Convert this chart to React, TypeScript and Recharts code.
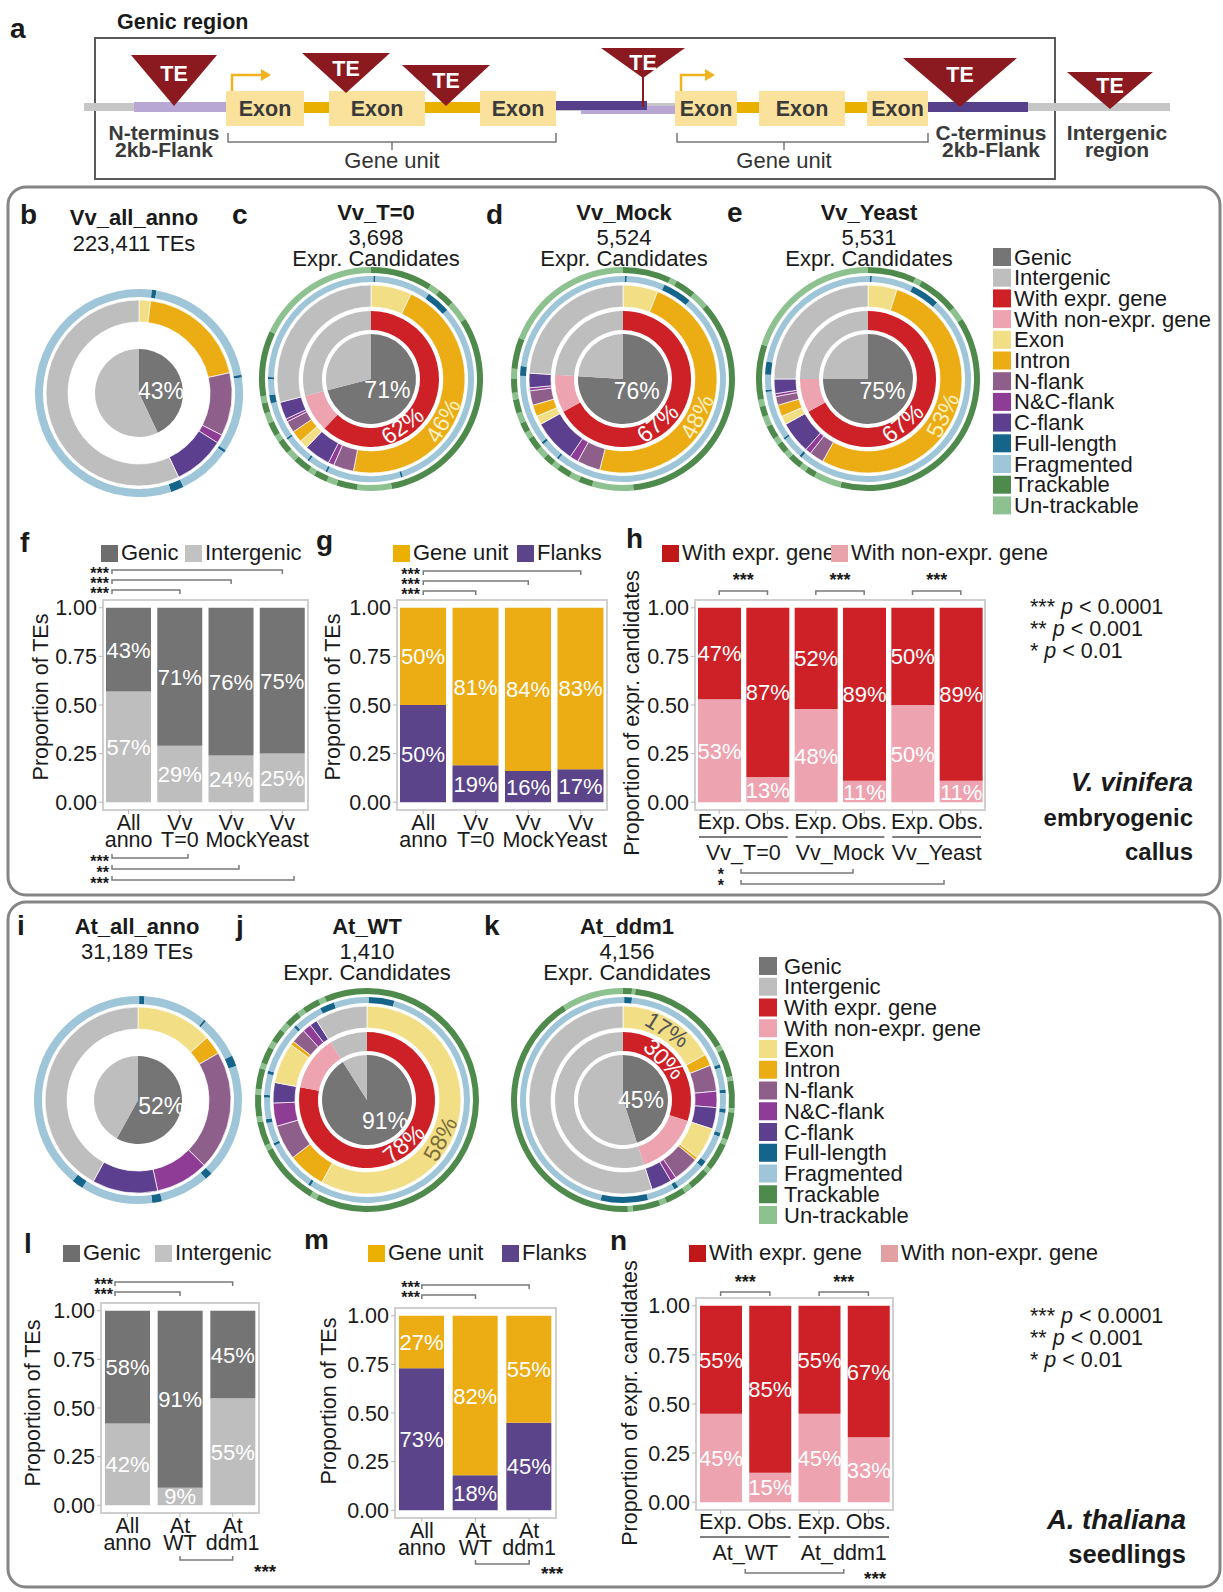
import React from "react";
import { PieChart, Pie, Cell, BarChart, Bar, XAxis, YAxis, LabelList, ReferenceArea } from "recharts";

const FONT = "'Liberation Sans', Arial, Helvetica, sans-serif";
const INK = "#1a1a1a";

const COLORS: Record<string, string> = {
  "Genic": "#757575",
  "Intergenic": "#bebebe",
  "With expr. gene": "#cd2127",
  "With non-expr. gene": "#eda4b0",
  "Exon": "#f2de85",
  "Intron": "#ebac14",
  "N-flank": "#8d5f8a",
  "N&C-flank": "#8f3c96",
  "C-flank": "#5c3f8e",
  "Full-length": "#15648a",
  "Fragmented": "#9ec6d8",
  "Trackable": "#4f8a4d",
  "Un-trackable": "#8dc18f",
};
const legendCats = ["Genic", "Intergenic", "With expr. gene", "With non-expr. gene", "Exon", "Intron", "N-flank", "N&C-flank", "C-flank", "Full-length", "Fragmented", "Trackable", "Un-trackable"];

// ---------- donut categories ----------
const innerCats = ["Genic", "Intergenic"];
const exprCats = ["With expr. gene", "With non-expr. gene", "Intergenic"];
const featureCats = ["Exon", "Intron", "N-flank", "N&C-flank", "C-flank", "Exon", "Intron", "N-flank", "N&C-flank", "C-flank", "Intergenic"];
const annoFeatureCats = ["Exon", "Intron", "N-flank", "N&C-flank", "C-flank", "Intergenic"];
const integrityCats = ["Fragmented", "Full-length"];
const trackCats = ["Trackable", "Un-trackable"];

// ---------- donut values (percent, clockwise from 12 o'clock) ----------
const vvAnnoGenic = [43, 57];
const vvAnnoFeature = [2, 19.5, 11, 1.5, 9, 57];
const vvAnnoIntegrity = [2, 0.7, 19.5, 0.4, 11.7, 0.4, 8.3, 2, 55];

const vvT0Genic = [71, 29];
const vvT0Expr = [62, 9, 29];
const vvT0Feature = [7, 46, 3.5, 1, 4.5, 1.5, 2, 2, 0.5, 3, 29];
const vvT0Integrity = [0.4, 0.3, 8.8, 3.8, 31.7, 0.3, 11.7, 0.3, 3, 0.3, 4.4, 0.3, 5.9, 1.3, 2.5, 0.3, 24.7];
const vvT0Track = [9, 1.5, 2.5, 3, 31, 5, 3, 1.5, 2, 1, 2.5, 1.5, 2, 1, 2, 1.5, 1.5, 1, 9.5, 18];

const vvMockGenic = [76, 24];
const vvMockExpr = [67, 9, 24];
const vvMockFeature = [6, 48, 4, 1.5, 7.5, 1.5, 2, 2.5, 0.5, 2.5, 24];
const vvMockIntegrity = [0.3, 0.3, 6, 4.6, 49.6, 0.3, 3, 0.4, 11, 1.5, 23];
const vvMockTrack = [7, 1, 3, 2.5, 35, 6, 2, 1.5, 2, 1, 1.5, 1.5, 2, 1, 1.5, 1.5, 2, 1, 2, 1.5, 4.5, 19];

const vvYeastGenic = [75, 25];
const vvYeastExpr = [67, 8, 25];
const vvYeastFeature = [5, 53, 2.5, 1, 5.5, 1.5, 2, 1.5, 0.5, 2.5, 25];
const vvYeastIntegrity = [0.3, 0.3, 6.6, 4.5, 49.5, 0.4, 3.4, 0.3, 7.7, 0.3, 2.4, 2, 22.3];
const vvYeastTrack = [7, 1, 6, 2, 38, 4, 1.5, 1, 2, 1, 1.5, 1, 2, 1.5, 1.5, 1, 8, 20];

const atAnnoGenic = [58, 42];
const atAnnoGenicLabel = "52%";
const atAnnoFeature = [13.3, 3.3, 20.8, 9.2, 11.4, 42];
const atAnnoIntegrity = [0.2, 0.8, 10, 0.3, 6.7, 1.7, 17.8, 1.2, 7.6, 1.5, 11.2, 1.8, 39.2];

const atWtGenic = [91, 9];
const atWtExpr = [78, 13, 9];
const atWtFeature = [58, 6.5, 6, 4, 3.5, 7, 0.7, 2.5, 1.5, 1.3, 9];
const atWtIntegrity = [0.3, 4, 55, 0.4, 8, 0.4, 3.3, 0.6, 3.4, 0.4, 3.3, 0.5, 7.9, 0.4, 4.6, 2.3, 5.2];
const atWtTrack = [57.5, 1, 9, 0.8, 3.5, 0.8, 3.2, 0.8, 3, 0.8, 2.5, 1, 2, 1.2, 2.2, 1, 2.5, 1, 6.2];

const atDdm1Genic = [45, 55];
const atDdm1Expr = [30, 15, 55];
const atDdm1Feature = [17, 2, 4.5, 2.8, 3.7, 5.5, 0.5, 4.5, 1, 3.5, 55];
const atDdm1Integrity = [0.2, 1.2, 18, 0.5, 3.5, 0.5, 2.5, 0.6, 3.2, 0.6, 4.4, 1, 4.8, 0.7, 4.4, 7.4, 46.5];
const atDdm1Track = [1.3, 0.5, 15, 0.8, 4, 0.6, 4, 0.6, 4, 0.8, 4, 0.8, 3, 1.2, 3, 1, 4, 0.7, 41.7, 9];

// ---------- bar values (proportions) ----------
const vvBarGroups = ["All\nanno", "Vv\nT=0", "Vv\nMock", "Vv\nYeast"];
const vvBarGenic = [0.43, 0.71, 0.76, 0.75];
const vvBarIntergenic = [0.57, 0.29, 0.24, 0.25];
const vvBarGeneUnit = [0.5, 0.81, 0.84, 0.83];
const vvBarFlanks = [0.5, 0.19, 0.16, 0.17];
const vvExprBars = ["Exp.", "Obs.", "Exp.", "Obs.", "Exp.", "Obs."];
const vvExprSamples = ["Vv_T=0", "Vv_Mock", "Vv_Yeast"];
const vvWithExpr = [0.47, 0.87, 0.52, 0.89, 0.5, 0.89];
const vvWithNonExpr = [0.53, 0.13, 0.48, 0.11, 0.5, 0.11];

const atBarGroups = ["All\nanno", "At\nWT", "At\nddm1"];
const atBarGenic = [0.58, 0.91, 0.45];
const atBarIntergenic = [0.42, 0.09, 0.55];
const atBarGeneUnit = [0.27, 0.82, 0.55];
const atBarFlanks = [0.73, 0.18, 0.45];
const atExprBars = ["Exp.", "Obs.", "Exp.", "Obs."];
const atExprSamples = ["At_WT", "At_ddm1"];
const atWithExpr = [0.55, 0.85, 0.55, 0.67];
const atWithNonExpr = [0.45, 0.15, 0.45, 0.33];

const yTicks = [0, 0.25, 0.5, 0.75, 1];

// ---------- layout ----------
type Box = { x0: number; x1: number; y0: number; y1: number };
const boxF: Box = { x0: 103, x1: 308, y0: 600, y1: 810 };
const boxG: Box = { x0: 397, x1: 607, y0: 600, y1: 810 };
const boxH: Box = { x0: 695, x1: 985, y0: 600, y1: 810 };
const boxL: Box = { x0: 101, x1: 259, y0: 1303, y1: 1513 };
const boxM: Box = { x0: 395, x1: 556, y0: 1308, y1: 1518 };
const boxN: Box = { x0: 696, x1: 893, y0: 1298, y1: 1510 };
const centers = (b: Box, n: number) => Array.from({ length: n }, (_, i) => b.x0 + ((b.x1 - b.x0) / n) * (i + 0.5));

// ---------- donut ----------
type RingSpec = { values: number[]; cats: string[]; r0: number; r1: number; stroke?: boolean };
type LabelSpec = { ring: number; index: number; angle?: number; r: number; rot?: number; color: string; text?: string; size?: number };

function Donut({ cx, cy, rings, labels }: { cx: number; cy: number; rings: RingSpec[]; labels: LabelSpec[] }) {
  const size = 240;
  const c = size / 2;
  return (
    <div style={{ position: "absolute", left: cx - c, top: cy - c, width: size, height: size }}>
      <PieChart width={size} height={size} margin={{ top: 0, right: 0, bottom: 0, left: 0 }}>
        {rings.map((ring, ri) => {
          const data = ring.values.map((v, i) => ({ name: ring.cats[i % ring.cats.length], value: v }));
          const specs = labels.filter((l) => l.ring === ri);
          const labelFn = specs.length
            ? (p: any) => {
                const s = specs.find((l) => l.index === p.index);
                if (!s) return null;
                const pcx = Number(p.cx);
                const pcy = Number(p.cy);
                let x: number;
                let y: number;
                if (s.angle === undefined) {
                  const a = (-Number(p.midAngle) * Math.PI) / 180;
                  x = pcx + s.r * Math.cos(a);
                  y = pcy + s.r * Math.sin(a);
                } else {
                  const a = (s.angle * Math.PI) / 180;
                  x = pcx + s.r * Math.sin(a);
                  y = pcy - s.r * Math.cos(a);
                }
                const val = Number(p.value ?? (p.payload && p.payload.value));
                return (
                  <text
                    x={x}
                    y={y}
                    textAnchor="middle"
                    dominantBaseline="central"
                    fill={s.color}
                    fontSize={s.size ?? 23}
                    fontFamily={FONT}
                    transform={s.rot ? `rotate(${s.rot} ${x} ${y})` : undefined}
                  >
                    {s.text ?? `${Math.round(val)}%`}
                  </text>
                );
              }
            : false;
          return (
            <Pie
              key={ri}
              data={data}
              dataKey="value"
              nameKey="name"
              cx={c}
              cy={c}
              innerRadius={ring.r0}
              outerRadius={ring.r1}
              startAngle={90}
              endAngle={-270}
              stroke={ring.stroke ? "#ffffff" : "none"}
              strokeWidth={ring.stroke ? 0.7 : 0}
              isAnimationActive={false}
              label={labelFn as any}
              labelLine={false}
            >
              {data.map((d, i) => (
                <Cell key={i} fill={COLORS[d.name]} />
              ))}
            </Pie>
          );
        })}
      </PieChart>
    </div>
  );
}

const R_IN: [number, number] = [0, 45];
const R_EXPR: [number, number] = [49, 68];
const R_FEAT: [number, number] = [72, 94];
const R_INT: [number, number] = [97, 103];
const R_TRK: [number, number] = [106, 112];

function fullRings(inner: number[], expr: number[], feat: number[], integ: number[], track: number[]): RingSpec[] {
  return [
    { values: inner, cats: innerCats, r0: R_IN[0], r1: R_IN[1] },
    { values: expr, cats: exprCats, r0: R_EXPR[0], r1: R_EXPR[1] },
    { values: feat, cats: featureCats, r0: R_FEAT[0], r1: R_FEAT[1], stroke: true },
    { values: integ, cats: integrityCats, r0: R_INT[0], r1: R_INT[1] },
    { values: track, cats: trackCats, r0: R_TRK[0], r1: R_TRK[1] },
  ];
}
function annoRings(inner: number[], feat: number[], integ: number[]): RingSpec[] {
  return [
    { values: inner, cats: innerCats, r0: 0, r1: 44 },
    { values: feat, cats: annoFeatureCats, r0: 71, r1: 93, stroke: true },
    { values: integ, cats: integrityCats, r0: 96, r1: 104 },
  ];
}

// ---------- stacked bars ----------
const pctLabel = (color: string) => (p: any) => {
  const vb = p.viewBox || p;
  const x = Number(vb.x ?? p.x);
  const y = Number(vb.y ?? p.y);
  const w = Number(vb.width ?? p.width);
  const h = Number(vb.height ?? p.height);
  const v = Number(p.value);
  return (
    <text x={x + w / 2} y={y + h / 2} dy={8} textAnchor="middle" fill={color} fontSize={22} fontFamily={FONT}>
      {`${Math.round(v * 100)}%`}
    </text>
  );
};

const twoLineTick = (labels: string[]) => (p: any) => {
  const i = Number(p.payload.value);
  const [a, b] = labels[i].split("\n");
  return (
    <text x={p.x} y={p.y} textAnchor="middle" fontSize={21.5} fill={INK} fontFamily={FONT}>
      <tspan x={p.x} dy={14}>{a}</tspan>
      <tspan x={p.x} dy={17}>{b}</tspan>
    </text>
  );
};

const groupTick = (labels: string[], samples: string[], band: number) => (p: any) => {
  const i = Number(p.payload.value);
  return (
    <g>
      <text x={p.x} y={p.y + 13} textAnchor="middle" fontSize={21.5} fill={INK} fontFamily={FONT}>
        {labels[i]}
      </text>
      {i % 2 === 0 ? (
        <g>
          <line x1={p.x - band / 2 + 4} x2={p.x + band * 1.5 - 4} y1={p.y + 21} y2={p.y + 21} stroke="#555" strokeWidth={1.5} />
          <text x={p.x + band / 2} y={p.y + 44} textAnchor="middle" fontSize={21.5} fill={INK} fontFamily={FONT}>
            {samples[i / 2]}
          </text>
        </g>
      ) : null}
    </g>
  );
};

function StackPanel({ box, lo, hi, loColor, hiColor, barSize, tick }: { box: Box; lo: number[]; hi: number[]; loColor: string; hiColor: string; barSize: number; tick: (p: any) => any }) {
  const padL = 70, padR = 6, padT = 6, padB = 70;
  const plotW = box.x1 - box.x0;
  const plotH = box.y1 - box.y0;
  const data = lo.map((v, i) => ({ idx: i, lo: v, hi: hi[i] }));
  return (
    <div style={{ position: "absolute", left: box.x0 - padL, top: box.y0 - padT }}>
      <BarChart width={padL + plotW + padR} height={padT + plotH + padB} data={data} margin={{ top: padT, right: padR, bottom: 0, left: 0 }} barCategoryGap={0}>
        <XAxis dataKey="idx" type="category" height={padB} tick={tick} tickSize={4} tickMargin={2} tickLine={{ stroke: "#b5b5b5" }} axisLine={false} interval={0} />
        <YAxis
          type="number"
          domain={[-0.04, 1.04]}
          ticks={yTicks}
          width={padL}
          allowDataOverflow
          tickFormatter={(v: number) => v.toFixed(2)}
          tick={{ fontSize: 21.5, fill: INK, fontFamily: FONT }}
          tickSize={4}
          tickMargin={2}
          tickLine={{ stroke: "#b5b5b5" }}
          axisLine={false}
        />
        <ReferenceArea y1={-0.04} y2={1.04} fill="none" stroke="#cfcfcf" strokeWidth={2} ifOverflow="visible" />
        <Bar dataKey="lo" stackId="s" fill={loColor} barSize={barSize} isAnimationActive={false}>
          <LabelList dataKey="lo" position="center" content={pctLabel("#ffffff") as any} />
        </Bar>
        <Bar dataKey="hi" stackId="s" fill={hiColor} barSize={barSize} isAnimationActive={false}>
          <LabelList dataKey="hi" position="center" content={pctLabel("#ffffff") as any} />
        </Bar>
      </BarChart>
    </div>
  );
}

// ---------- overlay helpers ----------
const T = (p: { x: number; y: number; s?: number; b?: boolean; a?: "start" | "middle" | "end"; c?: string; i?: boolean; children: any }) => (
  <text x={p.x} y={p.y} fontSize={p.s ?? 22} fontWeight={p.b ? "bold" : "normal"} fontStyle={p.i ? "italic" : "normal"} textAnchor={p.a ?? "start"} fill={p.c ?? INK} fontFamily={FONT}>
    {p.children}
  </text>
);
const YLabel = ({ x, y, text }: { x: number; y: number; text: string }) => (
  <text x={x + 7} y={y} transform={`rotate(-90 ${x + 7} ${y})`} textAnchor="middle" fontSize={21.5} fill={INK} fontFamily={FONT}>
    {text}
  </text>
);
const Bracket = ({ x1, x2, y, dir }: { x1: number; x2: number; y: number; dir: number }) => (
  <path d={`M${x1},${y + dir * 4} L${x1},${y} L${x2},${y} L${x2},${y + dir * 4}`} fill="none" stroke="#7a7a7a" strokeWidth={1.5} />
);
const Stars = ({ x, y, t, a, s }: { x: number; y: number; t: string; a?: "start" | "middle" | "end"; s?: number }) => (
  <text x={x} y={y + 9} textAnchor={a ?? "end"} fontSize={s ?? 16} fontWeight="bold" fill={INK} fontFamily={FONT}>
    {t}
  </text>
);
const Swatch = ({ x, y, c, label, s }: { x: number; y: number; c: string; label: string; s?: number }) => (
  <g>
    <rect x={x} y={y - 8} width={17} height={17} fill={c} />
    <T x={x + 20} y={y + 7} s={s ?? 22}>{label}</T>
  </g>
);
const DonutLegend = ({ x, y, step, s, gap }: { x: number; y: number; step: number; s: number; gap: number }) => (
  <g>
    {legendCats.map((c, i) => (
      <g key={c}>
        <rect x={x} y={y + i * step - 9} width={18} height={18} fill={COLORS[c]} />
        <T x={x + gap} y={y + i * step + 7.5} s={s}>{c}</T>
      </g>
    ))}
  </g>
);
const PLegend = ({ x, y }: { x: number; y: number }) => (
  <g>
    {["***", "**", "*"].map((s, i) => {
      const lvl = ["0.0001", "0.001", "0.01"][i];
      return (
        <text key={s} x={x} y={y + i * 22} fontSize={21.5} fill={INK} fontFamily={FONT}>
          <tspan>{s} </tspan>
          <tspan fontStyle="italic">p</tspan>
          <tspan>{` < ${lvl}`}</tspan>
        </text>
      );
    })}
  </g>
);

const TE_RED = "#8a1a1f";
function PanelA() {
  const te = (cx: number, top: number, half: number, apex: number, ty: number) => (
    <g key={cx}>
      <polygon points={`${cx - half},${top} ${cx + half},${top} ${cx},${apex}`} fill={TE_RED} />
      <text x={cx} y={ty} textAnchor="middle" fill="#fff" fontSize={21.5} fontWeight="bold" fontFamily={FONT}>TE</text>
    </g>
  );
  const exons = [[226, 304], [329, 425], [480, 556], [675, 737], [759, 845], [867, 928]];
  const gold = "#e9b000";
  const lbl = "#3a3a3a";
  return (
    <g fontFamily={FONT}>
      <T x={10} y={38} s={28} b>a</T>
      <T x={117} y={29} s={21.5} b>Genic region</T>
      <rect x={95} y={38} width={960} height={141} fill="none" stroke="#5a5a5a" strokeWidth={2} />
      <rect x={84} y={103} width={1086} height={8} fill="#c6c6c6" />
      <rect x={134} y={102} width={92} height={10} fill="#b8a6d4" />
      <rect x={581} y={106} width={94} height={8} fill="#b8a6d4" />
      <rect x={556} y={101} width={91} height={9} fill="#57408b" />
      <rect x={928} y={102} width={100} height={10} fill="#57408b" />
      <rect x={304} y={102} width={25} height={11} fill={gold} />
      <rect x={425} y={102} width={55} height={11} fill={gold} />
      <rect x={737} y={102} width={22} height={11} fill={gold} />
      <rect x={845} y={102} width={22} height={11} fill={gold} />
      {exons.map(([a, b]) => (
        <g key={a}>
          <rect x={a} y={91} width={b - a} height={35} fill="#fbe29c" />
          <text x={(a + b) / 2} y={116} textAnchor="middle" fontSize={21.5} fontWeight="bold" fill={lbl}>Exon</text>
        </g>
      ))}
      <line x1={643} y1={76} x2={643} y2={107} stroke={TE_RED} strokeWidth={2} />
      {te(174, 55, 43, 106, 81)}
      {te(346, 53, 44, 93, 76)}
      {te(446, 65, 44, 106, 88)}
      {te(643, 48, 42, 78, 70)}
      {te(960, 58, 57, 107, 82)}
      {te(1110, 72, 43, 109, 93)}
      <path d="M232,91 V75 H262" fill="none" stroke="#f0b21d" strokeWidth={2.5} />
      <polygon points="261,69 271,75 261,81" fill="#f0b21d" />
      <path d="M681,91 V75 H706" fill="none" stroke="#f0b21d" strokeWidth={2.5} />
      <polygon points="705,69 715,75 705,81" fill="#f0b21d" />
      <T x={164} y={140} s={21} b a="middle" c={lbl}>N-terminus</T>
      <T x={164} y={157} s={21} b a="middle" c={lbl}>2kb-Flank</T>
      <T x={991} y={140} s={21} b a="middle" c={lbl}>C-terminus</T>
      <T x={991} y={157} s={21} b a="middle" c={lbl}>2kb-Flank</T>
      <T x={1117} y={140} s={21} b a="middle" c={lbl}>Intergenic</T>
      <T x={1117} y={157} s={21} b a="middle" c={lbl}>region</T>
      <path d="M228,133 V142 H556 V133 M392,142 V150" fill="none" stroke="#777" strokeWidth={1.5} />
      <path d="M677,133 V142 H928 V133 M784,142 V150" fill="none" stroke="#777" strokeWidth={1.5} />
      <T x={392} y={168} s={22} a="middle" c="#333">Gene unit</T>
      <T x={784} y={168} s={22} a="middle" c="#333">Gene unit</T>
    </g>
  );
}

export default function App() {
  const cF = centers(boxF, 4);
  const cG = centers(boxG, 4);
  const cH = centers(boxH, 6);
  const cL = centers(boxL, 3);
  const cM = centers(boxM, 3);
  const cN = centers(boxN, 4);
  const gH = [0, 1, 2].map((k) => (cH[2 * k] + cH[2 * k + 1]) / 2);
  const gN = [0, 1].map((k) => (cN[2 * k] + cN[2 * k + 1]) / 2);
  const bandH = (boxH.x1 - boxH.x0) / 6;
  const bandN = (boxN.x1 - boxN.x0) / 4;

  return (
    <div style={{ position: "relative", width: 1223, height: 1592, background: "#fff", overflow: "hidden", fontFamily: FONT }}>
      <style>{"html,body{margin:0;padding:0;background:#fff}"}</style>
      <svg width={1223} height={1592} style={{ position: "absolute", left: 0, top: 0 }}>
        <PanelA />
        <rect x={8} y={187} width={1212} height={708} rx={18} fill="none" stroke="#858585" strokeWidth={3} />
        <rect x={8} y={902} width={1212} height={685} rx={18} fill="none" stroke="#858585" strokeWidth={3} />

        {/* donut titles top */}
        <T x={20} y={224} s={28} b>b</T>
        <T x={134} y={225} b a="middle">Vv_all_anno</T>
        <T x={134} y={251} a="middle">223,411 TEs</T>
        <T x={232} y={224} s={28} b>c</T>
        <T x={376} y={220} b a="middle">Vv_T=0</T>
        <T x={376} y={245} a="middle">3,698</T>
        <T x={376} y={266} a="middle">Expr. Candidates</T>
        <T x={486} y={224} s={28} b>d</T>
        <T x={624} y={220} b a="middle">Vv_Mock</T>
        <T x={624} y={245} a="middle">5,524</T>
        <T x={624} y={266} a="middle">Expr. Candidates</T>
        <T x={727} y={222} s={28} b>e</T>
        <T x={869} y={220} b a="middle">Vv_Yeast</T>
        <T x={869} y={245} a="middle">5,531</T>
        <T x={869} y={266} a="middle">Expr. Candidates</T>
        <DonutLegend x={993} y={257} step={20.7} s={22} gap={21} />

        {/* f */}
        <T x={20} y={552} s={28} b>f</T>
        <Swatch x={101} y={553} c="#6e6e6e" label="Genic" />
        <Swatch x={185} y={553} c="#c2c2c2" label="Intergenic" />
        {[3, 2, 1].map((k, j) => (
          <g key={k}>
            <Bracket x1={112} x2={cF[k]} y={570 + j * 10} dir={1} />
            <Stars x={109} y={570 + j * 10} t="***" />
          </g>
        ))}
        {[188, 239, 294].map((x2, j) => (
          <g key={x2}>
            <Bracket x1={112} x2={x2} y={858 + j * 11} dir={-1} />
            <Stars x={109} y={858 + j * 11} t={j === 1 ? "**" : "***"} />
          </g>
        ))}
        <YLabel x={41} y={697} text="Proportion of TEs" />

        {/* g */}
        <T x={316} y={550} s={28} b>g</T>
        <Swatch x={393} y={553} c="#ebb000" label="Gene unit" />
        <Swatch x={517} y={553} c="#5b4489" label="Flanks" />
        {[3, 2, 1].map((k, j) => (
          <g key={k}>
            <Bracket x1={cG[0]} x2={cG[k]} y={571 + j * 10} dir={1} />
            <Stars x={420} y={571 + j * 10} t="***" />
          </g>
        ))}
        <YLabel x={333} y={697} text="Proportion of TEs" />

        {/* h */}
        <T x={626} y={548} s={28} b>h</T>
        <Swatch x={662} y={553} c="#c01818" label="With expr. gene" />
        <Swatch x={831} y={553} c="#e9a3ab" label="With non-expr. gene" />
        {[0, 1, 2].map((k) => (
          <g key={k}>
            <Bracket x1={cH[2 * k]} x2={cH[2 * k + 1]} y={591} dir={1} />
            <Stars x={gH[k]} y={577} t="***" a="middle" s={18} />
          </g>
        ))}
        <Bracket x1={741} x2={853} y={873} dir={-1} />
        <Bracket x1={741} x2={944} y={884} dir={-1} />
        <Stars x={724} y={871} t="*" />
        <Stars x={724} y={882} t="*" />
        <YLabel x={632} y={713} text="Proportion of expr. candidates" />
        <PLegend x={1030} y={614} />
        <T x={1193} y={791} s={26} b i a="end">V. vinifera</T>
        <T x={1193} y={826} s={24} b a="end">embryogenic</T>
        <T x={1193} y={860} s={24} b a="end">callus</T>

        {/* lower donut titles */}
        <T x={17} y={935} s={28} b>i</T>
        <T x={137} y={934} b a="middle">At_all_anno</T>
        <T x={137} y={959} a="middle">31,189 TEs</T>
        <T x={236} y={935} s={28} b>j</T>
        <T x={367} y={934} b a="middle">At_WT</T>
        <T x={367} y={959} a="middle">1,410</T>
        <T x={367} y={980} a="middle">Expr. Candidates</T>
        <T x={484} y={935} s={28} b>k</T>
        <T x={627} y={934} b a="middle">At_ddm1</T>
        <T x={627} y={959} a="middle">4,156</T>
        <T x={627} y={980} a="middle">Expr. Candidates</T>
        <DonutLegend x={759} y={966} step={20.75} s={22} gap={25} />

        {/* l */}
        <T x={24} y={1253} s={28} b>l</T>
        <Swatch x={63} y={1253} c="#6e6e6e" label="Genic" />
        <Swatch x={155} y={1253} c="#c2c2c2" label="Intergenic" />
        <Bracket x1={115} x2={cL[2]} y={1282} dir={1} />
        <Bracket x1={115} x2={cL[1]} y={1292} dir={1} />
        <Stars x={113} y={1281} t="***" />
        <Stars x={113} y={1291} t="***" />
        <Bracket x1={cL[1]} x2={cL[2]} y={1560} dir={-1} />
        <Stars x={254} y={1569} t="***" a="start" s={19} />
        <YLabel x={33} y={1403} text="Proportion of TEs" />

        {/* m */}
        <T x={304} y={1249} s={28} b>m</T>
        <Swatch x={368} y={1253} c="#ebb000" label="Gene unit" />
        <Swatch x={502} y={1253} c="#5b4489" label="Flanks" />
        <Bracket x1={cM[0]} x2={cM[2]} y={1285} dir={1} />
        <Bracket x1={cM[0]} x2={cM[1]} y={1295} dir={1} />
        <Stars x={420} y={1284} t="***" />
        <Stars x={420} y={1294} t="***" />
        <Bracket x1={cM[1]} x2={cM[2]} y={1564} dir={-1} />
        <Stars x={541} y={1571} t="***" a="start" s={19} />
        <YLabel x={329} y={1401} text="Proportion of TEs" />

        {/* n */}
        <T x={610} y={1250} s={28} b>n</T>
        <Swatch x={689} y={1253} c="#c01818" label="With expr. gene" />
        <Swatch x={881} y={1253} c="#e2a0a2" label="With non-expr. gene" />
        {[0, 1].map((k) => (
          <g key={k}>
            <Bracket x1={cN[2 * k]} x2={cN[2 * k + 1]} y={1292} dir={1} />
            <Stars x={gN[k]} y={1279} t="***" a="middle" s={18} />
          </g>
        ))}
        <Bracket x1={gN[0]} x2={gN[1]} y={1573} dir={-1} />
        <Stars x={864} y={1576} t="***" a="start" s={19} />
        <YLabel x={630} y={1403} text="Proportion of expr. candidates" />
        <PLegend x={1030} y={1323} />
        <T x={1186} y={1529} s={27.5} b i a="end">A. thaliana</T>
        <T x={1186} y={1563} s={25.5} b a="end">seedlings</T>
      </svg>

      {/* donuts */}
      <Donut cx={139} cy={393} rings={annoRings(vvAnnoGenic, vvAnnoFeature, vvAnnoIntegrity)} labels={[{ ring: 0, index: 0, angle: 85, r: 22, color: "#fff" }]} />
      <Donut
        cx={371}
        cy={379}
        rings={fullRings(vvT0Genic, vvT0Expr, vvT0Feature, vvT0Integrity, vvT0Track)}
        labels={[
          { ring: 0, index: 0, angle: 125, r: 20, color: "#fff" },
          { ring: 1, index: 0, angle: 146, r: 56, rot: -36, color: "#fff" },
          { ring: 2, index: 1, angle: 120, r: 83, rot: -60, color: "#fdf1c3" },
        ]}
      />
      <Donut
        cx={623}
        cy={379}
        rings={fullRings(vvMockGenic, vvMockExpr, vvMockFeature, vvMockIntegrity, vvMockTrack)}
        labels={[
          { ring: 0, index: 0, angle: 130, r: 18, color: "#fff" },
          { ring: 1, index: 0, angle: 142, r: 56, rot: -40, color: "#fff" },
          { ring: 2, index: 1, angle: 117, r: 83, rot: -63, color: "#fdf1c3" },
        ]}
      />
      <Donut
        cx={868}
        cy={379}
        rings={fullRings(vvYeastGenic, vvYeastExpr, vvYeastFeature, vvYeastIntegrity, vvYeastTrack)}
        labels={[
          { ring: 0, index: 0, angle: 130, r: 19, color: "#fff" },
          { ring: 1, index: 0, angle: 142, r: 56, rot: -40, color: "#fff" },
          { ring: 2, index: 1, angle: 116, r: 83, rot: -64, color: "#fdf1c3" },
        ]}
      />
      <Donut cx={138} cy={1100} rings={annoRings(atAnnoGenic, atAnnoFeature, atAnnoIntegrity)} labels={[{ ring: 0, index: 0, r: 24, color: "#fff", text: atAnnoGenicLabel }]} />
      <Donut
        cx={367}
        cy={1100}
        rings={fullRings(atWtGenic, atWtExpr, atWtFeature, atWtIntegrity, atWtTrack)}
        labels={[
          { ring: 0, index: 0, angle: 140, r: 28, color: "#fff" },
          { ring: 1, index: 0, angle: 140, r: 57, rot: -40, color: "#fff" },
          { ring: 2, index: 0, angle: 118, r: 83, rot: -62, color: "#7a6d3a" },
        ]}
      />
      <Donut
        cx={623}
        cy={1100}
        rings={fullRings(atDdm1Genic, atDdm1Expr, atDdm1Feature, atDdm1Integrity, atDdm1Track)}
        labels={[
          { ring: 0, index: 0, angle: 90, r: 18, color: "#fff" },
          { ring: 1, index: 0, angle: 45, r: 58, rot: 45, color: "#fff" },
          { ring: 2, index: 0, angle: 32, r: 83, rot: 32, color: "#555" },
        ]}
      />

      {/* bars */}
      <StackPanel box={boxF} lo={vvBarIntergenic} hi={vvBarGenic} loColor="#bebebe" hiColor="#747474" barSize={45} tick={twoLineTick(vvBarGroups)} />
      <StackPanel box={boxG} lo={vvBarFlanks} hi={vvBarGeneUnit} loColor="#5b4489" hiColor="#ebac14" barSize={46} tick={twoLineTick(vvBarGroups)} />
      <StackPanel box={boxH} lo={vvWithNonExpr} hi={vvWithExpr} loColor="#eda4b0" hiColor="#cd2127" barSize={43} tick={groupTick(vvExprBars, vvExprSamples, bandH)} />
      <StackPanel box={boxL} lo={atBarIntergenic} hi={atBarGenic} loColor="#bebebe" hiColor="#747474" barSize={45} tick={twoLineTick(atBarGroups)} />
      <StackPanel box={boxM} lo={atBarFlanks} hi={atBarGeneUnit} loColor="#5b4489" hiColor="#ebac14" barSize={45} tick={twoLineTick(atBarGroups)} />
      <StackPanel box={boxN} lo={atWithNonExpr} hi={atWithExpr} loColor="#eda4b0" hiColor="#cd2127" barSize={42} tick={groupTick(atExprBars, atExprSamples, bandN)} />
    </div>
  );
}
